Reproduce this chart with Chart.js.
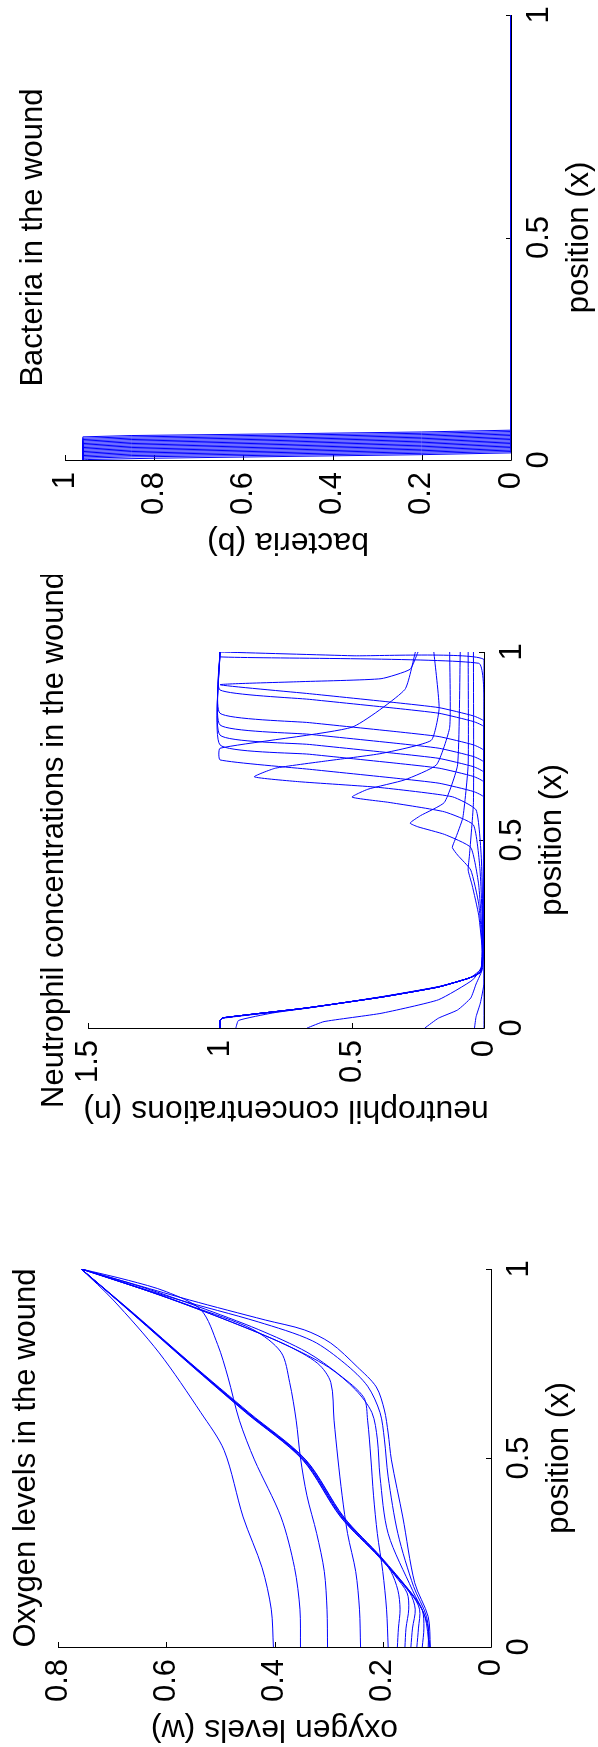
<!DOCTYPE html>
<html>
<head>
<meta charset="utf-8">
<script src="https://cdn.jsdelivr.net/npm/chart.js@4.4.0/dist/chart.umd.min.js"></script>
<style>
  body { margin: 0; background: #fff; }
  #wrap { position: relative; width: 598px; height: 1747px; background: #fff; }
  canvas { position: absolute; left: 0; }
</style>
</head>
<body>
<div id="wrap">
  <canvas id="bacteria" width="598" height="575" style="top:0px"></canvas>
  <canvas id="neutrophil" width="598" height="580" style="top:575px"></canvas>
  <canvas id="oxygen" width="598" height="592" style="top:1155px"></canvas>
</div>
<script>
// each curve is a list of [position x, value]

const positionTicks = [0, 0.5, 1];
const positionTickLabels = ["0", "0.5", "1"];

// Bacteria (b)
const bacteriaTicks = [0, 0.2, 0.4, 0.6, 0.8, 1];
const bacteriaTickLabels = ["0", "0.2", "0.4", "0.6", "0.8", "1"];
const bacteriaCurves = [
  [[0, 0.96], [0.001, 0.95], [0.004, 0.8], [0.008, 0.5], [0.012, 0.2], [0.016, 0], [1, 0]],
  [[0, 0.96], [0.004, 0.96], [0.007, 0.85], [0.011, 0.5], [0.015, 0.2], [0.019, 0], [1, 0]],
  [[0, 0.96], [0.007, 0.96], [0.010, 0.85], [0.014, 0.5], [0.018, 0.2], [0.022, 0], [1, 0]],
  [[0, 0.96], [0.010, 0.96], [0.013, 0.85], [0.017, 0.5], [0.021, 0.2], [0.025, 0], [1, 0]],
  [[0, 0.96], [0.013, 0.96], [0.016, 0.85], [0.020, 0.5], [0.024, 0.2], [0.028, 0], [1, 0]],
  [[0, 0.96], [0.016, 0.96], [0.019, 0.85], [0.023, 0.5], [0.027, 0.2], [0.031, 0], [1, 0]],
  [[0, 0.96], [0.019, 0.96], [0.022, 0.85], [0.026, 0.5], [0.030, 0.2], [0.034, 0], [1, 0]],
  [[0, 0.96], [0.022, 0.96], [0.025, 0.85], [0.029, 0.5], [0.033, 0.2], [0.037, 0], [1, 0]],
  [[0, 0.96], [0.025, 0.96], [0.028, 0.85], [0.032, 0.5], [0.036, 0.2], [0.040, 0], [1, 0]],
  [[0, 0.96], [0.028, 0.96], [0.031, 0.85], [0.035, 0.5], [0.039, 0.2], [0.043, 0], [1, 0]],
  [[0, 0.96], [0.031, 0.96], [0.034, 0.85], [0.038, 0.5], [0.042, 0.2], [0.046, 0], [1, 0]],
  [[0, 0.96], [0.034, 0.96], [0.037, 0.85], [0.041, 0.5], [0.045, 0.2], [0.049, 0], [1, 0]],
  [[0, 0.96], [0.037, 0.96], [0.040, 0.85], [0.044, 0.5], [0.048, 0.2], [0.052, 0], [1, 0]],
  [[0, 0.96], [0.040, 0.96], [0.043, 0.85], [0.047, 0.5], [0.051, 0.2], [0.055, 0], [1, 0]],
  [[0, 0.96], [0.043, 0.96], [0.046, 0.85], [0.050, 0.5], [0.054, 0.2], [0.058, 0], [1, 0]],
  [[0, 0.96], [0.046, 0.96], [0.049, 0.85], [0.053, 0.5], [0.057, 0.2], [0.061, 0], [1, 0]],
  [[0, 0.96], [0.049, 0.96], [0.052, 0.85], [0.056, 0.5], [0.060, 0.2], [0.064, 0], [1, 0]],
  [[0, 0.96], [0.052, 0.96], [0.055, 0.85], [0.059, 0.5], [0.063, 0.2], [0.067, 0], [1, 0]]
];

// Neutrophils (n)
const neutrophilTicks = [0, 0.5, 1, 1.5];
const neutrophilTickLabels = ["0", "0.5", "1", "1.5"];
const neutrophilCurves = [
  [[0, 0], [0.6, 0], [0.98, 0], [0.99, 0.5], [1, 1]],
  [[0, 0.036], [0.03, 0.03], [0.066, 0.014], [0.12, 0], [0.88, 0], [0.97, 0.02], [0.987, 1], [1, 1]],
  [[0, 0.224], [0.026, 0.173], [0.048, 0.1], [0.08, 0.05], [0.117, 0.03], [0.16, 0.005], [0.8, 0], [0.815, 0.04], [0.837, 0.17], [0.85, 0.33], [0.874, 0.66], [0.899, 1], [1, 1]],
  [[0, 0.67], [0.017, 0.606], [0.039, 0.39], [0.075, 0.173], [0.128, 0.043], [0.17, 0.005], [0.737, 0], [0.753, 0.04], [0.775, 0.17], [0.788, 0.33], [0.812, 0.66], [0.837, 1], [1, 1]],
  [[0, 0.94], [0.02, 0.93], [0.04, 0.8], [0.06, 0.6], [0.085, 0.37], [0.11, 0.17], [0.135, 0.05], [0.16, 0.01], [0.706, 0], [0.722, 0.04], [0.744, 0.17], [0.757, 0.33], [0.781, 0.66], [0.806, 1], [1, 1]],
  [[0, 1], [0.02, 1], [0.026, 0.99], [0.052, 0.678], [0.083, 0.39], [0.11, 0.173], [0.132, 0.058], [0.15, 0.014], [0.2, 0.003], [0.679, 0], [0.695, 0.04], [0.717, 0.17], [0.73, 0.33], [0.754, 0.66], [0.779, 1], [1, 1]],
  [[0, 1], [0.02, 1], [0.027, 0.99], [0.053, 0.676], [0.082, 0.39], [0.109, 0.173], [0.133, 0.056], [0.149, 0.013], [0.2, 0.003], [0.653, 0], [0.669, 0.04], [0.691, 0.17], [0.704, 0.33], [0.728, 0.66], [0.753, 1], [1, 1]],
  [[0, 1], [0.02, 1], [0.027, 0.99], [0.053, 0.674], [0.082, 0.388], [0.109, 0.172], [0.133, 0.056], [0.149, 0.013], [0.2, 0.003], [0.613, 0], [0.629, 0.04], [0.651, 0.17], [0.664, 0.33], [0.688, 0.66], [0.713, 1], [0.744, 1], [0.8, 0.5], [0.9, 0.3], [1, 0.26]],
  [[0, 1], [0.02, 1], [0.027, 0.99], [0.053, 0.676], [0.082, 0.39], [0.109, 0.173], [0.133, 0.056], [0.149, 0.013], [0.2, 0.003], [0.815, 0], [0.83, 0.04], [0.852, 0.17], [0.865, 0.33], [0.889, 0.66], [0.913, 1], [0.921, 0.7], [0.929, 0.39], [0.954, 0.28], [1, 0.25]],
  [[0, 1], [0.02, 1], [0.027, 0.99], [0.053, 0.676], [0.082, 0.39], [0.109, 0.173], [0.133, 0.056], [0.149, 0.013], [0.2, 0.003], [0.45, 0.01], [0.58, 0.03], [0.615, 0.12], [0.64, 0.4], [0.655, 0.7], [0.668, 0.87], [0.691, 0.79], [0.71, 0.6], [0.73, 0.39], [0.765, 0.2], [0.85, 0.17], [1, 0.19]],
  [[0, 1], [0.02, 1], [0.027, 0.99], [0.053, 0.676], [0.082, 0.39], [0.109, 0.173], [0.133, 0.056], [0.149, 0.013], [0.2, 0.003], [0.42, 0.015], [0.54, 0.04], [0.575, 0.15], [0.6, 0.36], [0.614, 0.5], [0.635, 0.44], [0.66, 0.3], [0.7, 0.18], [0.8, 0.13], [1, 0.13]],
  [[0, 1], [0.02, 1], [0.027, 0.99], [0.053, 0.676], [0.082, 0.39], [0.109, 0.173], [0.133, 0.056], [0.149, 0.013], [0.2, 0.004], [0.38, 0.02], [0.48, 0.05], [0.515, 0.15], [0.535, 0.25], [0.545, 0.28], [0.565, 0.24], [0.6, 0.15], [0.7, 0.1], [1, 0.09]],
  [[0, 1], [0.02, 1], [0.027, 0.99], [0.053, 0.676], [0.082, 0.39], [0.109, 0.173], [0.133, 0.056], [0.149, 0.013], [0.2, 0.005], [0.33, 0.02], [0.42, 0.05], [0.46, 0.1], [0.48, 0.12], [0.5, 0.11], [0.56, 0.08], [0.7, 0.06], [1, 0.06]],
  [[0, 1], [0.02, 1], [0.027, 0.99], [0.053, 0.676], [0.082, 0.39], [0.109, 0.173], [0.133, 0.056], [0.149, 0.014], [0.2, 0.006], [0.3, 0.02], [0.38, 0.045], [0.42, 0.06], [0.46, 0.055], [0.6, 0.04], [1, 0.04]]
];

// Oxygen (w)
const oxygenTicks = [0, 0.2, 0.4, 0.6, 0.8];
const oxygenTickLabels = ["0", "0.2", "0.4", "0.6", "0.8"];
const oxygenCurves = [
  [[0, 0.402], [0.1, 0.406], [0.21, 0.423], [0.344, 0.458], [0.52, 0.493], [0.62, 0.536], [0.778, 0.613], [0.918, 0.698], [1, 0.757]],
  [[0, 0.352], [0.1, 0.353], [0.21, 0.363], [0.344, 0.388], [0.495, 0.437], [0.6, 0.465], [0.714, 0.486], [0.8, 0.505], [0.892, 0.536], [0.94, 0.6], [0.97, 0.67], [1, 0.757]],
  [[0, 0.302], [0.1, 0.303], [0.2, 0.308], [0.3, 0.322], [0.4, 0.34], [0.5, 0.352], [0.6, 0.36], [0.7, 0.372], [0.78, 0.388], [0.84, 0.44], [0.9, 0.55], [0.95, 0.65], [1, 0.757]],
  [[0, 0.241], [0.1, 0.243], [0.2, 0.25], [0.3, 0.265], [0.4, 0.275], [0.5, 0.283], [0.6, 0.29], [0.7, 0.296], [0.75, 0.32], [0.8, 0.38], [0.86, 0.48], [0.93, 0.61], [1, 0.757]],
  [[0, 0.19], [0.1, 0.193], [0.2, 0.2], [0.3, 0.21], [0.4, 0.217], [0.5, 0.222], [0.6, 0.228], [0.66, 0.235], [0.72, 0.28], [0.78, 0.34], [0.84, 0.43], [0.9, 0.54], [0.95, 0.64], [1, 0.757]],
  [[0, 0.173], [0.05, 0.171], [0.1, 0.168], [0.15, 0.172], [0.2, 0.185], [0.238, 0.205], [0.344, 0.275], [0.495, 0.345], [0.62, 0.45], [0.751, 0.557], [0.88, 0.66], [1, 0.757]],
  [[0, 0.159], [0.05, 0.157], [0.1, 0.152], [0.143, 0.155], [0.19, 0.178], [0.238, 0.204], [0.344, 0.273], [0.495, 0.343], [0.62, 0.449], [0.751, 0.556], [0.88, 0.659], [1, 0.757]],
  [[0, 0.148], [0.05, 0.145], [0.1, 0.14], [0.143, 0.15], [0.238, 0.206], [0.344, 0.277], [0.495, 0.347], [0.62, 0.452], [0.751, 0.558], [0.88, 0.66], [1, 0.757]],
  [[0, 0.137], [0.05, 0.134], [0.1, 0.132], [0.143, 0.148], [0.238, 0.203], [0.344, 0.272], [0.495, 0.342], [0.62, 0.447], [0.751, 0.555], [0.88, 0.658], [1, 0.757]],
  [[0, 0.127], [0.05, 0.124], [0.098, 0.127], [0.143, 0.147], [0.238, 0.205], [0.344, 0.275], [0.495, 0.345], [0.62, 0.45], [0.751, 0.557], [0.88, 0.66], [1, 0.757]],
  [[0, 0.116], [0.05, 0.116], [0.098, 0.127], [0.143, 0.149], [0.238, 0.207], [0.344, 0.278], [0.495, 0.348], [0.62, 0.453], [0.751, 0.559], [0.88, 0.661], [1, 0.757]],
  [[0, 0.114], [0.08, 0.122], [0.15, 0.145], [0.3, 0.19], [0.45, 0.205], [0.55, 0.21], [0.62, 0.22], [0.68, 0.25], [0.74, 0.3], [0.8, 0.38], [0.86, 0.48], [0.93, 0.61], [1, 0.757]],
  [[0, 0.113], [0.08, 0.119], [0.16, 0.143], [0.3, 0.172], [0.45, 0.19], [0.55, 0.197], [0.62, 0.205], [0.69, 0.228], [0.75, 0.27], [0.81, 0.33], [0.86, 0.43], [0.92, 0.58], [1, 0.757]],
  [[0, 0.112], [0.08, 0.116], [0.17, 0.141], [0.344, 0.163], [0.495, 0.184], [0.566, 0.19], [0.627, 0.197], [0.688, 0.212], [0.741, 0.247], [0.804, 0.296], [0.839, 0.345], [0.865, 0.417], [0.918, 0.557], [1, 0.757]]
];

// rotated MATLAB style axes: value axis along the bottom, position axis on the right
const panelAxes = {
  id: "panelAxes",
  beforeDatasetsDraw(chart, args, opts) {
    const ctx = chart.ctx;
    const a = chart.chartArea;
    const xs = chart.scales.x, ys = chart.scales.y;
    ctx.save();
    ctx.strokeStyle = "#000";
    ctx.lineWidth = 1;
    ctx.beginPath();
    ctx.moveTo(a.left, a.bottom + 0.5);
    ctx.lineTo(a.right + 0.5, a.bottom + 0.5);
    ctx.lineTo(a.right + 0.5, a.top);
    opts.valueTicks.forEach(v => {
      const px = Math.round(xs.getPixelForValue(v)) + 0.5;
      ctx.moveTo(px, a.bottom);
      ctx.lineTo(px, a.bottom - 5);
    });
    positionTicks.forEach(v => {
      const py = Math.round(ys.getPixelForValue(v)) + 0.5;
      ctx.moveTo(a.right, py);
      ctx.lineTo(a.right - 5, py);
    });
    ctx.stroke();

    ctx.fillStyle = "#000";
    ctx.font = '31px "Liberation Sans", Arial, sans-serif';
    opts.valueTicks.forEach((v, i) => {
      ctx.save();
      ctx.translate(xs.getPixelForValue(v), a.bottom + 12);
      ctx.rotate(-Math.PI / 2);
      ctx.textAlign = "right";
      ctx.textBaseline = "middle";
      ctx.fillText(opts.valueLabels[i], 0, 0);
      ctx.restore();
    });
    positionTicks.forEach((v, i) => {
      ctx.save();
      ctx.translate(a.right + 37, ys.getPixelForValue(v));
      ctx.rotate(-Math.PI / 2);
      ctx.textAlign = "center";
      ctx.textBaseline = "alphabetic";
      ctx.fillText(positionTickLabels[i], 0, 0);
      ctx.restore();
    });
    const midY = (a.top + a.bottom) / 2;
    ctx.save();
    ctx.translate(a.right + 77, midY);
    ctx.rotate(-Math.PI / 2);
    ctx.textAlign = "center";
    ctx.fillText("position (x)", 0, 0);
    ctx.restore();

    ctx.font = '32px "Liberation Sans", Arial, sans-serif';
    ctx.save();
    ctx.translate((a.left + a.right) / 2, a.bottom + 73);
    ctx.rotate(Math.PI);
    ctx.textAlign = "center";
    ctx.fillText(opts.valueTitle, 0, 0);
    ctx.restore();

    ctx.font = '31px "Liberation Sans", Arial, sans-serif';
    ctx.save();
    ctx.translate(opts.titleX, midY);
    ctx.rotate(-Math.PI / 2);
    ctx.textAlign = "center";
    ctx.fillText(opts.title, 0, 0);
    ctx.restore();
    ctx.restore();
  }
};

function makePanel(id, curves, maxValue, tension, padding, axisOpts) {
  const ctx = document.getElementById(id).getContext("2d");
  return new Chart(ctx, {
    type: "scatter",
    data: {
      datasets: curves.map(c => ({
        data: c.map(pt => ({ x: pt[1], y: pt[0] })),
        showLine: true,
        borderColor: "#0000ff",
        borderWidth: 1,
        pointRadius: 0,
        fill: false,
        tension: tension
      }))
    },
    options: {
      responsive: false,
      animation: false,
      events: [],
      layout: { padding: padding },
      plugins: {
        legend: { display: false },
        tooltip: { enabled: false },
        panelAxes: axisOpts
      },
      scales: {
        x: { type: "linear", reverse: true, min: 0, max: maxValue, display: false },
        y: { type: "linear", min: 0, max: 1, display: false }
      }
    },
    plugins: [panelAxes]
  });
}

makePanel("bacteria", bacteriaCurves, 1, 0,
  { left: 65, right: 87, top: 15, bottom: 115 },
  { valueTicks: bacteriaTicks, valueLabels: bacteriaTickLabels, valueTitle: "bacteria (b)",
    title: "Bacteria in the wound", titleX: 42 });

makePanel("neutrophil", neutrophilCurves, 1.5, 0.15,
  { left: 88, right: 114, top: 77, bottom: 127 },
  { valueTicks: neutrophilTicks, valueLabels: neutrophilTickLabels, valueTitle: "neutrophil concentrations (n)",
    title: "Neutrophil concentrations in the wound", titleX: 63 });

makePanel("oxygen", oxygenCurves, 0.8, 0.3,
  { left: 58, right: 107, top: 114, bottom: 100 },
  { valueTicks: oxygenTicks, valueLabels: oxygenTickLabels, valueTitle: "oxygen levels (w)",
    title: "Oxygen levels in the wound", titleX: 35 });
</script>
</body>
</html>
